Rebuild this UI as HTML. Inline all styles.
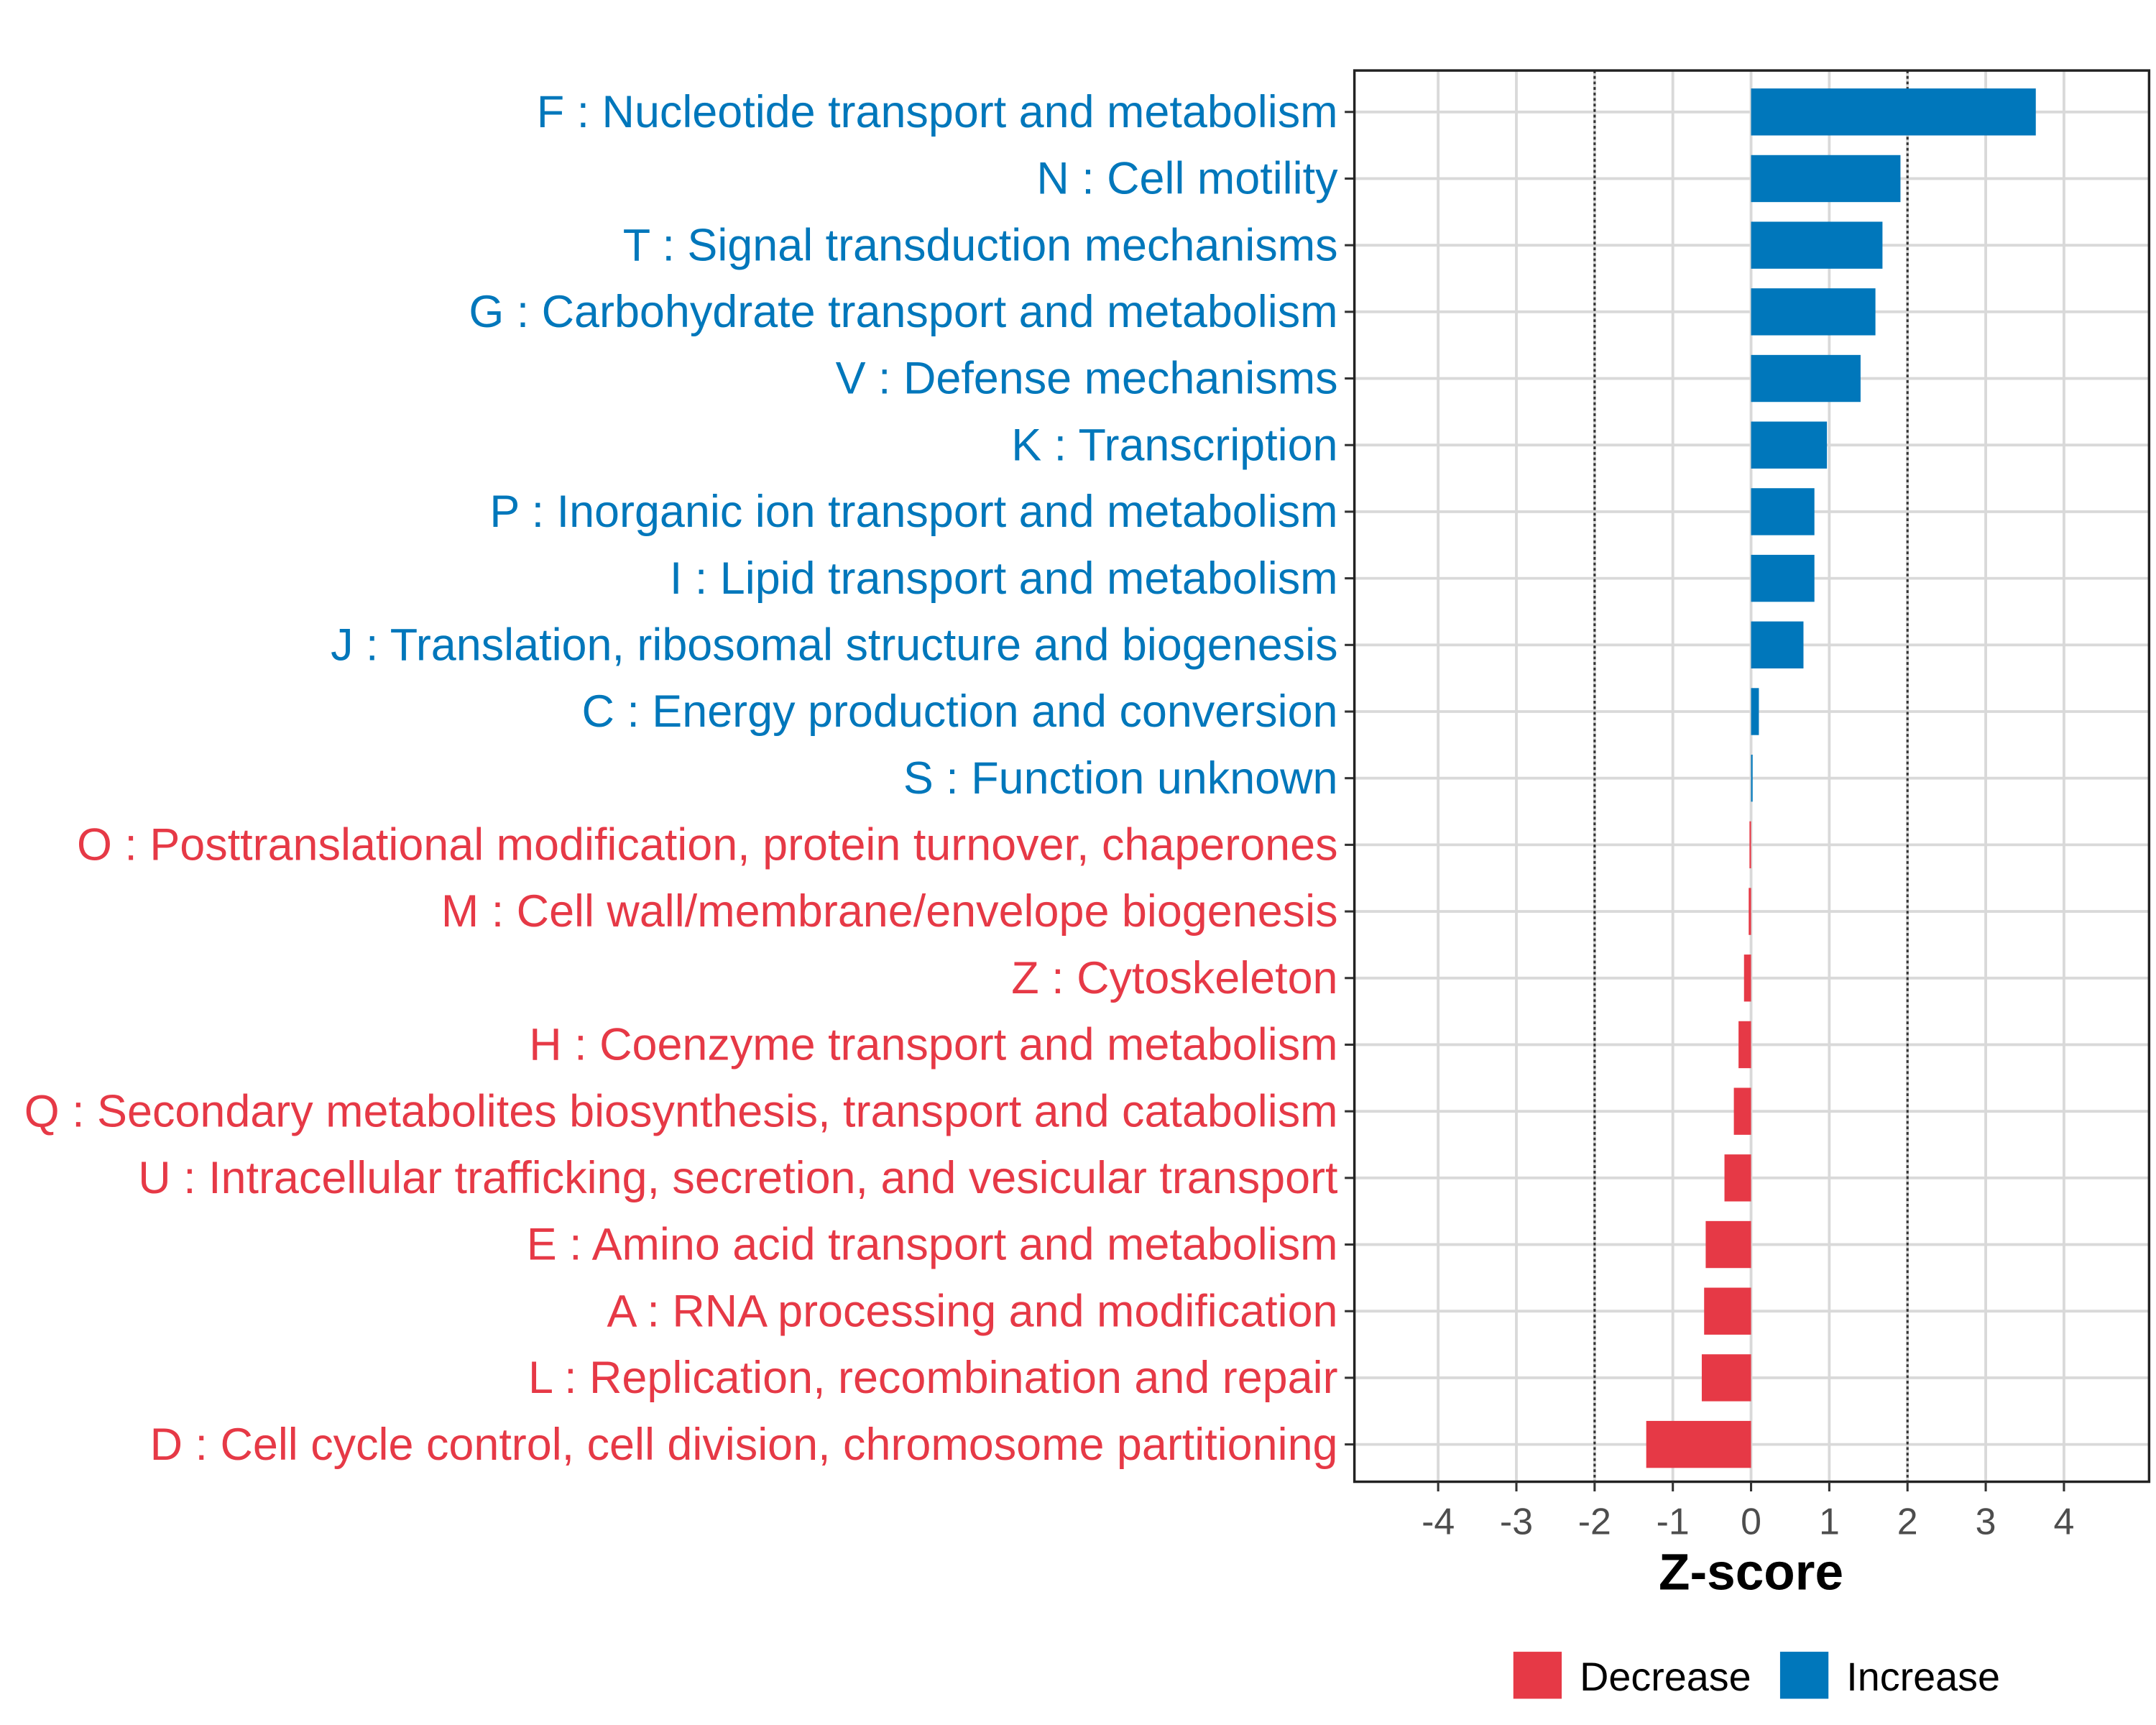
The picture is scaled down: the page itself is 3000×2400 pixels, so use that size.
<!DOCTYPE html>
<html><head><meta charset="utf-8"><style>
html,body{margin:0;padding:0;background:#fff;}
svg{display:block;font-family:"Liberation Sans",Arial,sans-serif;}
</style></head><body>
<svg id="chart" width="3000" height="2400" viewBox="0 0 1560 1248" xmlns="http://www.w3.org/2000/svg">
<rect width="1560" height="1248" fill="#fff"/>
<g id="grid"></g>
<g id="bars"></g>
<g id="labels"></g>
<g id="axis"></g>
</svg>
<script>
const categories = ["F : Nucleotide transport and metabolism","N : Cell motility","T : Signal transduction mechanisms","G : Carbohydrate transport and metabolism","V : Defense mechanisms","K : Transcription","P : Inorganic ion transport and metabolism","I : Lipid transport and metabolism","J : Translation, ribosomal structure and biogenesis","C : Energy production and conversion","S : Function unknown","O : Posttranslational modification, protein turnover, chaperones","M : Cell wall/membrane/envelope biogenesis","Z : Cytoskeleton","H : Coenzyme transport and metabolism","Q : Secondary metabolites biosynthesis, transport and catabolism","U : Intracellular trafficking, secretion, and vesicular transport","E : Amino acid transport and metabolism","A : RNA processing and modification","L : Replication, recombination and repair","D : Cell cycle control, cell division, chromosome partitioning"];
const zscores = [3.64,1.91,1.68,1.59,1.40,0.97,0.81,0.81,0.67,0.10,0.02,-0.02,-0.03,-0.09,-0.16,-0.22,-0.34,-0.58,-0.60,-0.63,-1.34];
const xTicks = [-4,-3,-2,-1,0,1,2,3,4];
const thresholds = [-2,2];
const legendLabels = ["Decrease","Increase"];

const NS="http://www.w3.org/2000/svg";
const BLUE="#0077bb", RED="#e63946";
const panel={x0:980,x1:1555,y0:51,y1:1072};
const xScale=v=>1267+v*56.6;
const yScale=i=>81+i*48.2;
function mk(tag,attrs,parent,text){const e=document.createElementNS(NS,tag);for(const k in attrs)e.setAttribute(k,attrs[k]);if(text!==undefined)e.textContent=text;parent.appendChild(e);return e;}
const grid=document.getElementById('grid'),bars=document.getElementById('bars'),labels=document.getElementById('labels'),axis=document.getElementById('axis'),svg=document.getElementById('chart');

xTicks.forEach(t=>{const l=mk('line',{x1:xScale(t),x2:xScale(t),y1:panel.y0,y2:panel.y1,stroke:'#d9d9d9','stroke-width':2},grid);

});
categories.forEach((c,i)=>{const l=mk('line',{x1:panel.x0,x2:panel.x1,y1:yScale(i),y2:yScale(i),stroke:'#d9d9d9','stroke-width':2},grid);

});
thresholds.forEach(t=>{const l=mk('line',{x1:xScale(t),x2:xScale(t),y1:panel.y0,y2:panel.y1,stroke:'#333','stroke-width':1.6,'stroke-dasharray':'2,2'},grid);

});

categories.forEach((c,i)=>{const v=zscores[i];const col=v>=0?BLUE:RED;
const x=Math.min(xScale(0),xScale(v)),w=Math.max(Math.abs(xScale(v)-xScale(0)),0.8);
const r=mk('rect',{x:x,y:yScale(i)-17,width:w,height:34,fill:col},bars);


const t=mk('text',{x:968,y:yScale(i)+11,'text-anchor':'end','font-size':32.7,fill:col},labels,c);


const tk=mk('line',{x1:panel.x0-7,x2:panel.x0,y1:yScale(i),y2:yScale(i),stroke:'#333','stroke-width':1.6},axis);

});

const fr=mk('rect',{x:panel.x0,y:panel.y0,width:panel.x1-panel.x0,height:panel.y1-panel.y0,fill:'none',stroke:'#222','stroke-width':1.8},axis);


xTicks.forEach(t=>{const tk=mk('line',{x1:xScale(t),x2:xScale(t),y1:panel.y1,y2:panel.y1+7,stroke:'#333','stroke-width':1.6},axis);


const tl=mk('text',{x:xScale(t),y:1110,'text-anchor':'middle','font-size':27,fill:'#4d4d4d'},axis,String(t));

});
const xt=mk('text',{x:1267,y:1150,'text-anchor':'middle','font-size':37,'font-weight':'bold',fill:'#000'},axis,'Z-score');



const leg=mk('g',{},svg);


const legX=[1095,1288],legC=[RED,BLUE];
legendLabels.forEach((lab,i)=>{const s=mk('rect',{x:legX[i],y:1195,width:35,height:34,fill:legC[i]},leg);


const t=mk('text',{x:legX[i]+48,y:1223,'font-size':29,fill:'#000'},leg,lab);

});
</script>
</body></html>
